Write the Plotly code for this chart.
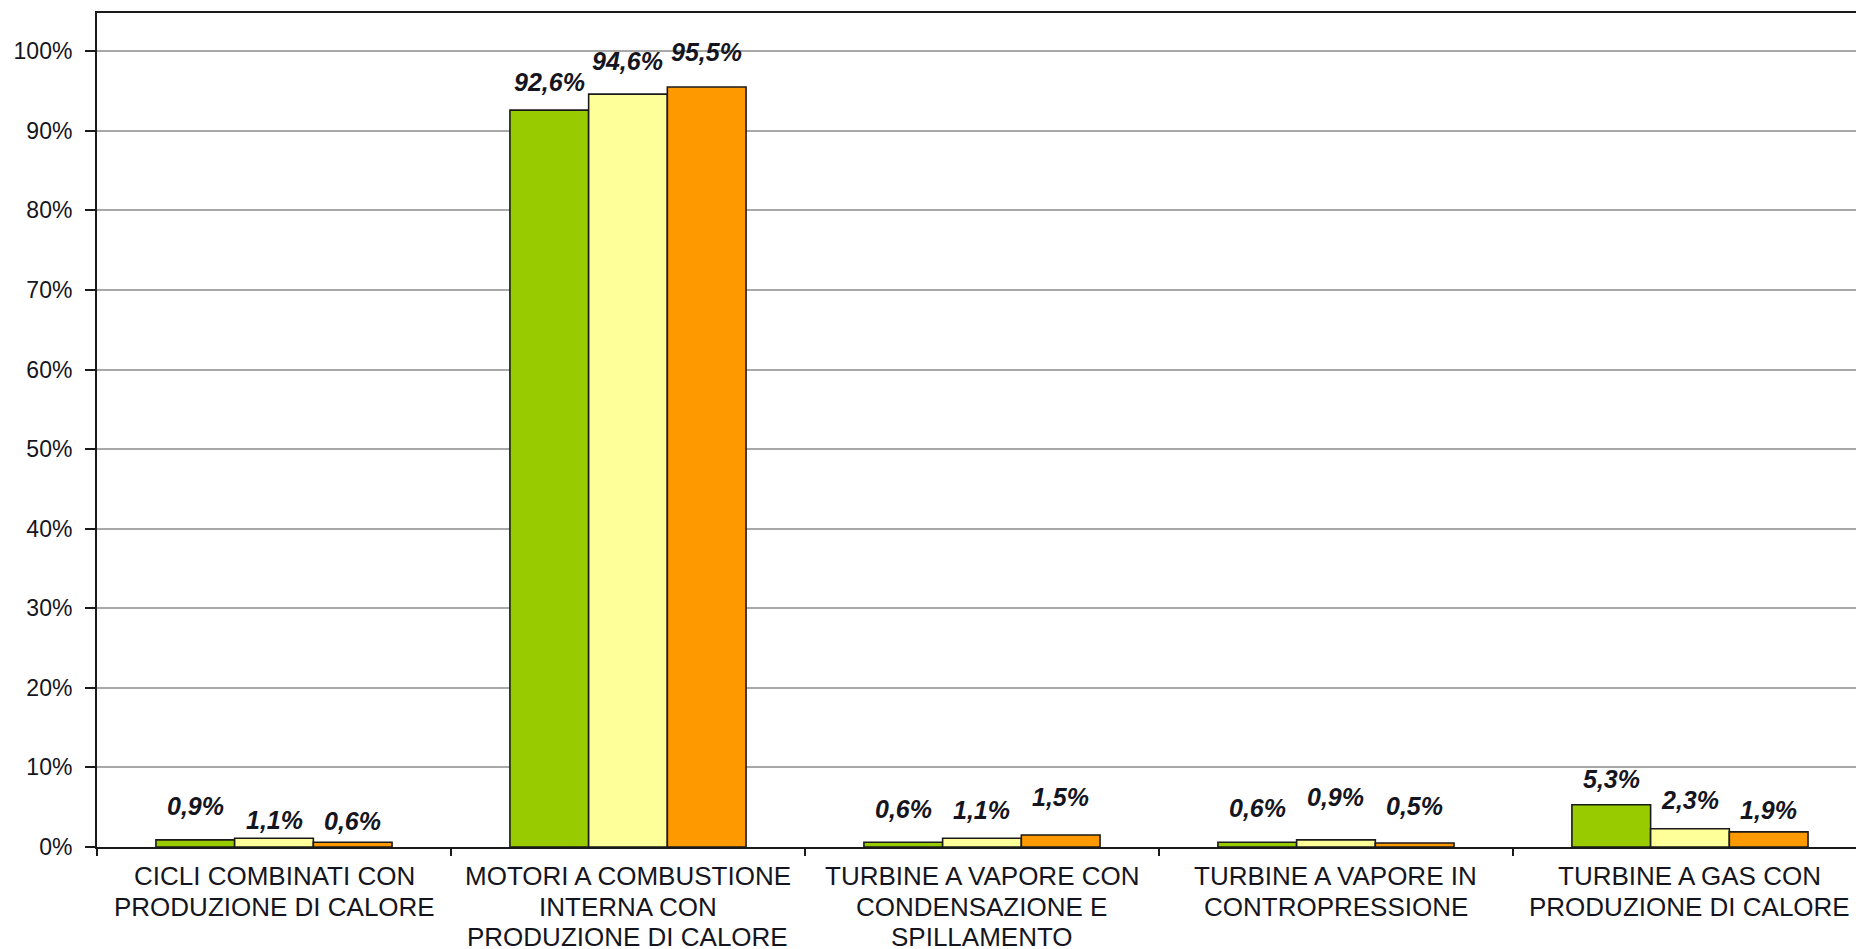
import plotly.graph_objects as go

# Categories (multi-line labels) and shares per series, in percent
categorie = [
    "CICLI COMBINATI CON<br>PRODUZIONE DI CALORE",
    "MOTORI A COMBUSTIONE<br>INTERNA CON<br>PRODUZIONE DI CALORE",
    "TURBINE A VAPORE CON<br>CONDENSAZIONE E<br>SPILLAMENTO",
    "TURBINE A VAPORE IN<br>CONTROPRESSIONE",
    "TURBINE A GAS CON<br>PRODUZIONE DI CALORE",
]
serie_a = [0.9, 92.6, 0.6, 0.6, 5.3]
serie_b = [1.1, 94.6, 1.1, 0.9, 2.3]
serie_c = [0.6, 95.5, 1.5, 0.5, 1.9]
y_ticks = [0, 10, 20, 30, 40, 50, 60, 70, 80, 90, 100]
y_tick_text = [f"{v}%" for v in y_ticks]

# vertical lift (px) of each value label above its bar top
label_lift = [
    [34, 18, 21],
    [28, 33, 35],
    [33, 28, 38],
    [34, 43, 37],
    [26, 29, 22],
]

colori = ["#99CC00", "#FFFF99", "#FF9900"]
serie = [serie_a, serie_b, serie_c]
nomi = ["A", "B", "C"]

BARGAP = 0.333
bar_w = (1 - BARGAP) / 3
FONT = "Liberation Sans, Arial, sans-serif"
TEXT_COL = "#151520"

# category label lines: first line offset below the axis and line pitch (px)
CAT_FIRST = 29
CAT_PITCH = 30.5

fig = go.Figure()
for s, col, nm in zip(serie, colori, nomi):
    fig.add_trace(go.Bar(
        x=categorie, y=s, name=nm,
        marker=dict(color=col, line=dict(color="#1a1a1a", width=1.6)),
        showlegend=False, hoverinfo="skip",
    ))

annotations = []
for i in range(len(categorie)):
    for j, s in enumerate(serie):
        annotations.append(dict(
            x=i + (j - 1) * bar_w, y=s[i], xref="x", yref="y",
            text=f"{s[i]:.1f}%".replace(".", ","),
            showarrow=False, yanchor="middle", xanchor="center",
            yshift=label_lift[i][j],
            font=dict(family=FONT, size=25, color=TEXT_COL,
                      weight="bold", style="italic"),
        ))
    # category label, one annotation per line for a tighter line pitch
    for k, riga in enumerate(categorie[i].split("<br>")):
        annotations.append(dict(
            x=i, y=0, xref="x", yref="y",
            text=riga, showarrow=False, xanchor="center", yanchor="middle",
            yshift=-(CAT_FIRST + k * CAT_PITCH),
            font=dict(family=FONT, size=26, color=TEXT_COL),
        ))

fig.update_layout(
    width=1856, height=949,
    margin=dict(l=97, r=0, t=13, b=102, autoexpand=False),
    paper_bgcolor="white", plot_bgcolor="white",
    barmode="group", bargap=BARGAP, bargroupgap=0,
    annotations=annotations,
    font=dict(family=FONT, color=TEXT_COL),
)
fig.update_xaxes(
    type="category", range=[-0.5, 4.469], automargin=False,
    showticklabels=False, tickson="boundaries",
    showline=True, linecolor="#1a1a1a", linewidth=2, mirror=True,
    ticks="outside", ticklen=7, tickwidth=2, tickcolor="#1a1a1a",
    showgrid=False, zeroline=False,
)
fig.update_yaxes(
    range=[0, 104.8], tickmode="array", tickvals=y_ticks, ticktext=y_tick_text,
    automargin=False,
    showline=True, linecolor="#1a1a1a", linewidth=2, mirror=False,
    ticks="outside", ticklen=10, tickwidth=2, tickcolor="#1a1a1a",
    showgrid=True, gridcolor="#A8A8A8", gridwidth=1.5, zeroline=False,
    tickfont=dict(size=23, color=TEXT_COL),
    ticklabelstandoff=8,
)

fig.write_html("out.html")
